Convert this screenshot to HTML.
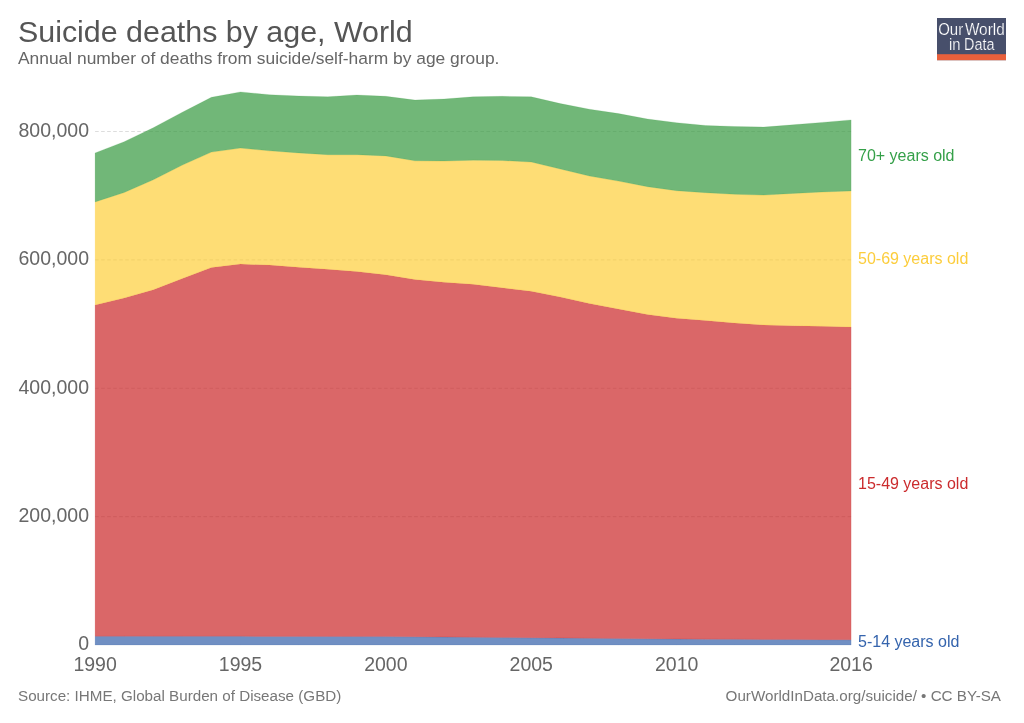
<!DOCTYPE html>
<html><head><meta charset="utf-8">
<style>
html,body{margin:0;padding:0;background:#fff;width:1024px;height:723px;overflow:hidden}
svg{display:block;will-change:transform;font-family:"Liberation Sans",sans-serif}
.ax{font-size:19.5px;fill:#666}
.lab{font-size:16px}
</style></head><body>
<svg width="1024" height="723" viewBox="0 0 1024 723">
<rect width="1024" height="723" fill="#fff"/>
<text x="18" y="42" style="font-size:30.4px;fill:#555">Suicide deaths by age, World</text>
<text x="18" y="64.0" style="font-size:17.4px;fill:#666">Annual number of deaths from suicide/self-harm by age group.</text>
<g>
<rect x="937" y="18" width="69" height="42.2" fill="#474f6b"/>
<rect x="937" y="54.2" width="69" height="6" fill="#e8603c"/>
<g style="font-size:16.9px;fill:#fff;stroke:#474f6b;stroke-width:0.22px">
<text x="938.2" y="34.6" textLength="25" lengthAdjust="spacingAndGlyphs">Our</text>
<text x="964.9" y="34.6" textLength="39.8" lengthAdjust="spacingAndGlyphs">World</text>
<text x="948.9" y="49.9" textLength="11.5" lengthAdjust="spacingAndGlyphs">in</text>
<text x="964.0" y="49.9" textLength="30.4" lengthAdjust="spacingAndGlyphs">Data</text>
</g>
</g>
<line x1="95.1" y1="516.62" x2="851.1" y2="516.62" stroke="#ddd" stroke-dasharray="3.61,2.41" stroke-width="1.2"/>
<line x1="95.1" y1="388.25" x2="851.1" y2="388.25" stroke="#ddd" stroke-dasharray="3.61,2.41" stroke-width="1.2"/>
<line x1="95.1" y1="259.88" x2="851.1" y2="259.88" stroke="#ddd" stroke-dasharray="3.61,2.41" stroke-width="1.2"/>
<line x1="95.1" y1="131.50" x2="851.1" y2="131.50" stroke="#ddd" stroke-dasharray="3.61,2.41" stroke-width="1.2"/>


<polygon points="95.10,636.30 124.18,636.31 153.25,636.33 182.33,636.34 211.41,636.36 240.48,636.37 269.56,636.39 298.64,636.40 327.72,636.47 356.79,636.53 385.87,636.60 414.95,636.83 444.02,637.07 473.10,637.30 502.18,637.55 531.25,637.80 560.33,638.06 589.41,638.32 618.48,638.58 647.56,638.84 676.64,639.10 705.72,639.22 734.79,639.33 763.87,639.45 792.95,639.57 822.02,639.68 851.10,639.80 851.10,645.00 822.02,645.00 792.95,645.00 763.87,645.00 734.79,645.00 705.72,645.00 676.64,645.00 647.56,645.00 618.48,645.00 589.41,645.00 560.33,645.00 531.25,645.00 502.18,645.00 473.10,645.00 444.02,645.00 414.95,645.00 385.87,645.00 356.79,645.00 327.72,645.00 298.64,645.00 269.56,645.00 240.48,645.00 211.41,645.00 182.33,645.00 153.25,645.00 124.18,645.00 95.10,645.00" fill="#3360a9" fill-opacity="0.7" stroke="#3360a9" stroke-opacity="0.25" stroke-width="0.6"/>
<polygon points="95.10,305.00 124.18,297.90 153.25,289.80 182.33,278.60 211.41,267.40 240.48,264.10 269.56,265.10 298.64,267.20 327.72,269.30 356.79,271.50 385.87,274.80 414.95,279.60 444.02,282.20 473.10,284.30 502.18,287.80 531.25,291.20 560.33,297.00 589.41,303.40 618.48,309.00 647.56,314.50 676.64,318.20 705.72,320.50 734.79,323.00 763.87,325.00 792.95,325.80 822.02,326.30 851.10,327.10 851.10,639.80 822.02,639.68 792.95,639.57 763.87,639.45 734.79,639.33 705.72,639.22 676.64,639.10 647.56,638.84 618.48,638.58 589.41,638.32 560.33,638.06 531.25,637.80 502.18,637.55 473.10,637.30 444.02,637.07 414.95,636.83 385.87,636.60 356.79,636.53 327.72,636.47 298.64,636.40 269.56,636.39 240.48,636.37 211.41,636.36 182.33,636.34 153.25,636.33 124.18,636.31 95.10,636.30" fill="#ca2628" fill-opacity="0.7" stroke="#ca2628" stroke-opacity="0.25" stroke-width="0.6"/>
<polygon points="95.10,201.90 124.18,192.50 153.25,179.80 182.33,165.10 211.41,152.10 240.48,148.10 269.56,150.80 298.64,152.90 327.72,154.70 356.79,154.70 385.87,155.90 414.95,160.80 444.02,161.00 473.10,160.20 502.18,160.50 531.25,162.00 560.33,169.00 589.41,176.00 618.48,181.10 647.56,186.70 676.64,190.70 705.72,192.70 734.79,194.30 763.87,195.10 792.95,193.40 822.02,192.00 851.10,190.90 851.10,327.10 822.02,326.30 792.95,325.80 763.87,325.00 734.79,323.00 705.72,320.50 676.64,318.20 647.56,314.50 618.48,309.00 589.41,303.40 560.33,297.00 531.25,291.20 502.18,287.80 473.10,284.30 444.02,282.20 414.95,279.60 385.87,274.80 356.79,271.50 327.72,269.30 298.64,267.20 269.56,265.10 240.48,264.10 211.41,267.40 182.33,278.60 153.25,289.80 124.18,297.90 95.10,305.00" fill="#fdcf3a" fill-opacity="0.7" stroke="#fdcf3a" stroke-opacity="0.25" stroke-width="0.6"/>
<polygon points="95.10,152.90 124.18,141.70 153.25,127.70 182.33,112.20 211.41,97.30 240.48,91.90 269.56,94.70 298.64,96.00 327.72,96.80 356.79,95.00 385.87,96.30 414.95,100.10 444.02,99.00 473.10,96.80 502.18,96.30 531.25,96.80 560.33,103.60 589.41,109.20 618.48,113.60 647.56,119.00 676.64,122.70 705.72,125.50 734.79,126.50 763.87,127.10 792.95,124.80 822.02,122.40 851.10,119.90 851.10,190.90 822.02,192.00 792.95,193.40 763.87,195.10 734.79,194.30 705.72,192.70 676.64,190.70 647.56,186.70 618.48,181.10 589.41,176.00 560.33,169.00 531.25,162.00 502.18,160.50 473.10,160.20 444.02,161.00 414.95,160.80 385.87,155.90 356.79,154.70 327.72,154.70 298.64,152.90 269.56,150.80 240.48,148.10 211.41,152.10 182.33,165.10 153.25,179.80 124.18,192.50 95.10,201.90" fill="#34983f" fill-opacity="0.7" stroke="#34983f" stroke-opacity="0.25" stroke-width="0.6"/>

<text x="89" y="649.50" text-anchor="end" class="ax">0</text>
<text x="89" y="522.12" text-anchor="end" class="ax">200,000</text>
<text x="89" y="393.75" text-anchor="end" class="ax">400,000</text>
<text x="89" y="265.38" text-anchor="end" class="ax">600,000</text>
<text x="89" y="137.00" text-anchor="end" class="ax">800,000</text>

<text x="95.10" y="670.8" text-anchor="middle" class="ax">1990</text>
<text x="240.48" y="670.8" text-anchor="middle" class="ax">1995</text>
<text x="385.87" y="670.8" text-anchor="middle" class="ax">2000</text>
<text x="531.25" y="670.8" text-anchor="middle" class="ax">2005</text>
<text x="676.64" y="670.8" text-anchor="middle" class="ax">2010</text>
<text x="851.10" y="670.8" text-anchor="middle" class="ax">2016</text>

<text x="858" y="160.5" class="lab" fill="#35a049">70+ years old</text>
<text x="858" y="263.7" class="lab" fill="#fccd3c">50-69 years old</text>
<text x="858" y="488.5" class="lab" fill="#cb2b2d">15-49 years old</text>
<text x="858" y="646.9" class="lab" fill="#3564ad">5-14 years old</text>
<text x="18" y="701.0" style="font-size:15.2px;fill:#777">Source: IHME, Global Burden of Disease (GBD)</text>
<text x="1001" y="701.0" text-anchor="end" style="font-size:15.2px;fill:#777">OurWorldInData.org/suicide/ • CC BY-SA</text>
</svg>
</body></html>
